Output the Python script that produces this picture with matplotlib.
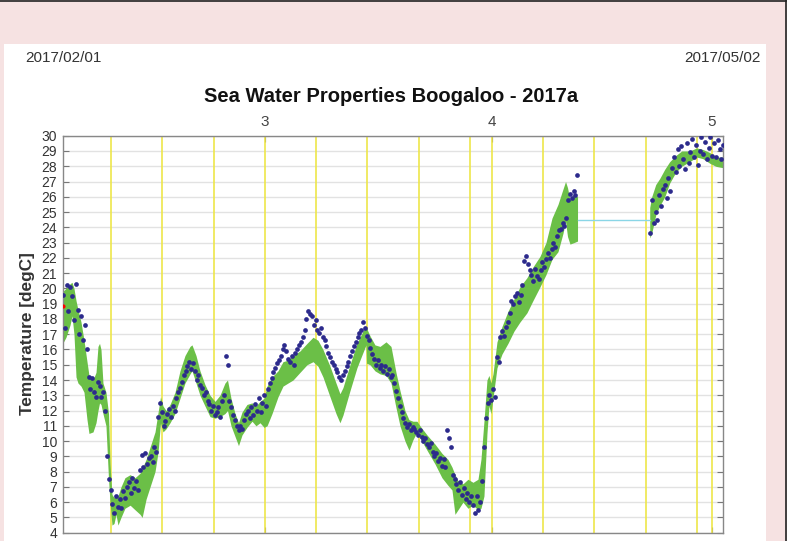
#!/usr/bin/env python3
"""Sea water temperature: model spread band vs. observed samples, Feb-May 2017."""
import matplotlib
matplotlib.use("Agg")
import matplotlib.pyplot as plt
import numpy as np
from matplotlib.lines import Line2D
from matplotlib.patches import Rectangle

plt.rcParams["font.family"] = ["Liberation Sans", "DejaVu Sans"]

# Time axis is days since 2017-02-01 00:00
X_START, X_END = 0.37, 90.6
MONTH_DAYS = [28, 59, 89]
MONTH_LABELS = ["3", "4", "5"]
WEEK_DAYS = [7, 14, 21, 28, 35, 42, 49, 56, 59, 66, 73, 80, 87, 89]

# Model spread (min/max), first stretch
band1_day = [0.37, 0.82, 1.37, 1.64, 1.91, 2.19, 2.46, 2.87, 3.28, 3.69, 3.96, 4.51,
             4.92, 5.19, 5.40, 5.60, 5.87, 6.28, 6.63, 6.83, 7.10, 7.38, 7.65, 7.92,
             8.33, 8.87, 9.58, 10.25, 10.94, 11.22, 11.76, 12.30, 12.98, 13.40, 13.73,
             14.07, 14.48, 15.03, 15.71, 16.39, 17.07, 17.76, 18.03, 18.58, 19.12,
             19.80, 20.49, 21.17, 21.85, 22.53, 22.88, 23.36, 23.91, 24.38, 24.86,
             25.54, 26.23, 26.77, 27.32, 27.87, 28.28, 28.96, 29.78, 30.46, 31.14,
             31.83, 32.78, 33.74, 34.56, 35.24, 35.92, 36.88, 37.70, 38.24, 38.65,
             39.61, 40.56, 41.38, 41.80, 41.87, 42.34, 43.02, 43.71, 44.53, 45.21,
             45.89, 46.44, 47.12, 47.67, 48.22, 48.76, 49.17, 50.13, 51.22, 52.17,
             52.99, 53.54, 53.95, 54.36, 55.04, 55.72, 56.41, 57.09, 57.50, 57.91,
             58.32, 58.59, 58.87, 59.14, 59.69, 60.37, 61.19, 62.01, 62.83, 63.78,
             64.60, 65.56, 66.38, 67.20, 68.02, 68.70, 69.05, 69.32, 69.66, 70.21, 70.69]
band1_lo = [16.4, 16.8, 17.6, 18.2, 17.0, 14.2, 13.8, 13.6, 13.2, 11.4, 10.5, 10.6,
            11.2, 12.0, 12.5, 12.4, 11.8, 11.0, 7.5, 6.0, 4.5, 4.6, 5.2, 4.5,
            5.0, 5.6, 5.8, 5.5, 5.2, 5.0, 6.2, 7.0, 8.0, 9.3, 11.2,
            10.6, 10.8, 11.2, 11.8, 12.8, 13.8, 14.4, 14.6, 13.8, 13.0,
            12.3, 11.6, 11.5, 11.6, 11.8, 12.0, 11.0, 10.3, 9.7, 10.4,
            10.9, 11.3, 11.0, 11.2, 10.9, 11.0, 11.8, 12.9, 13.6, 13.8,
            14.0, 14.5, 15.0, 15.2, 14.9, 14.2, 12.9, 11.8, 11.2, 11.7,
            13.3, 14.8, 15.8, 16.3, 15.1, 15.0, 14.6, 14.4, 14.3, 13.8,
            12.2, 11.0, 10.0, 9.4, 10.1, 10.6, 10.2, 9.4, 8.5, 7.6,
            7.1, 6.8, 5.2, 5.5, 6.0, 5.6, 5.8, 5.5, 5.6, 6.4,
            10.5, 12.3, 11.8, 12.8, 14.8, 15.7, 16.4, 17.2, 17.8, 18.4,
            19.2, 20.1, 20.9, 21.9, 22.4, 23.6, 24.4, 23.4, 22.9, 23.0, 23.1]
band1_hi = [19.8, 20.0, 20.3, 20.4, 20.0, 19.2, 18.6, 17.8, 16.6, 15.2, 14.3, 14.0,
            14.5, 16.2, 16.4, 16.0, 13.8, 13.2, 11.8, 8.5, 6.5, 6.3, 6.5, 6.4,
            7.0, 7.6, 7.8, 7.6, 7.9, 8.2, 8.8, 9.6, 10.6, 11.9, 12.9,
            12.3, 12.0, 12.4, 13.2, 14.6, 15.6, 16.2, 16.3, 15.6, 14.6,
            13.7, 13.0, 12.6, 13.0, 13.8, 14.0, 12.8, 11.8, 11.2, 11.9,
            12.4, 12.5, 12.3, 12.6, 12.8, 13.6, 14.2, 14.6, 15.2, 15.3,
            15.6, 15.9, 16.4, 16.8, 16.6, 16.0, 14.9, 13.8, 13.1, 13.5,
            15.0, 16.4, 17.2, 17.5, 17.4, 16.9, 16.3, 16.2, 16.5, 16.2,
            14.5, 13.3, 12.0, 11.4, 11.3, 11.3, 11.0, 10.4, 9.8, 9.2,
            8.8, 8.3, 7.8, 7.4, 7.2, 7.5, 7.3, 7.5, 8.8, 11.3,
            14.0, 14.3, 13.8, 14.4, 16.5, 17.5, 18.5, 19.3, 20.1, 20.7,
            21.4, 22.1, 23.0, 24.6, 25.5, 26.5, 27.0, 26.6, 25.8, 26.2, 26.0]

# Model spread, second stretch
band2_day = [80.55, 80.82, 81.37, 81.92, 82.60, 83.28, 84.10, 84.92, 86.01, 86.97,
             87.79, 88.74, 89.56, 90.6]
band2_lo = [23.3, 23.6, 24.8, 25.4, 26.0, 26.9, 27.6, 28.0, 28.3, 28.6,
            28.5, 28.2, 28.0, 27.9]
band2_hi = [25.3, 26.0, 26.8, 27.2, 27.8, 28.3, 28.7, 29.0, 29.0, 29.2,
            29.1, 28.9, 28.6, 28.6]

# Model mean carried across the data gap
gap_day = [70.69, 80.55]
gap_temp = [24.5, 24.5]

# Observations, sampled every 6 h
OBS_STEP = 0.25
obs1_start = 0.4
obs1_temp = [
    19.6, 17.4, 20.2, 18.5, 20.1, 19.5, 17.9, 20.3, 18.6, 17.0, 18.2, 16.6,
    17.6, 16.0, 14.2, 13.4, 14.1, 13.2, 12.9, 13.9, 13.6, 12.9, 13.2, 12.0,
    9.0, 7.5, 6.8, 5.9, 5.3, 6.4, 5.7, 6.2, 5.6, 6.7, 6.3, 7.0,
    7.3, 6.6, 7.6, 6.9, 7.4, 6.8, 8.1, 9.1, 8.3, 9.2, 8.5, 8.9,
    9.0, 8.6, 9.6, 9.3, 11.6, 12.5, 11.9, 11.0, 11.3, 11.8, 12.1, 11.6,
    12.3, 12.0, 12.8, 13.2, 13.5, 13.9, 14.3, 14.6, 14.9, 15.2, 14.7, 15.1,
    14.6, 14.0, 14.3, 13.7, 13.5, 13.0, 13.2, 12.6, 12.4, 12.0, 12.3, 11.7,
    11.9, 12.2, 11.6, 12.6, 13.0, 15.6, 15.0, 12.6, 12.2, 11.7, 11.4, 11.0,
    10.7, 11.0, 10.8, 11.4, 11.8, 12.0, 11.5, 12.2, 11.7, 12.4, 12.0, 12.8,
    11.9, 12.5, 13.0, 12.3, 13.4, 13.8, 14.1, 14.5, 14.8, 15.1, 15.3, 15.6,
    16.0, 16.3, 15.9, 15.4, 15.2, 15.6, 15.0, 15.8, 16.0, 16.3, 16.5, 16.8,
    17.3, 18.0, 18.5, 18.3, 18.2, 17.6, 17.9, 17.3, 17.1, 17.4, 16.8, 16.6,
    16.2, 15.8, 15.5, 15.2, 15.0, 14.7, 14.5, 14.2, 14.0, 14.3, 14.6, 14.9,
    15.2, 15.6, 15.9, 16.2, 16.5, 16.8, 17.1, 17.3, 17.8, 17.4, 16.9, 16.6,
    16.1, 15.7, 15.4, 15.0, 15.3, 14.8, 15.0, 14.6, 14.9, 14.4, 14.7, 14.2,
    14.3, 13.8, 13.3, 12.8, 12.3, 11.9, 11.5, 11.2, 10.9, 11.1, 10.7, 10.9,
    10.8, 10.6, 10.4, 10.7, 10.3, 10.0, 10.2, 9.8, 9.6, 9.9, 9.3, 9.0,
    9.2, 8.7, 8.9, 8.4, 8.8, 8.3, 10.7, 10.2, 9.6, 7.8, 7.5, 7.2,
    6.8, 7.3, 6.5, 6.9, 6.2, 6.6, 6.0, 6.4, 5.8, 5.3, 6.4, 5.5,
    6.0, 7.4, 9.6, 11.5, 12.5, 13.0, 12.7, 13.4, 12.9, 15.5, 15.2, 16.8,
    17.2, 16.9, 17.5, 17.8, 18.4, 19.2, 19.0, 19.5, 19.7, 19.1, 19.6, 20.2,
    21.8, 22.1, 21.6, 21.2, 20.9, 20.5, 21.3, 20.8, 20.6, 21.2, 21.7, 21.4,
    21.9, 22.3, 22.0, 22.6, 23.0, 22.7, 23.4, 23.8, 23.9, 24.3, 24.1, 24.6,
    25.8, 26.2, 25.9, 26.4, 26.1, 27.4,
]
obs2_start = 80.6
obs2_temp = [
    23.6, 25.8, 24.3, 25.0, 24.5, 26.1, 25.4, 26.5, 26.8, 25.9, 27.2, 26.4,
    27.9, 28.6, 27.6, 29.1, 28.0, 29.3, 28.5, 27.8, 29.5, 28.2, 28.9, 29.8,
    28.6, 29.4, 28.1, 29.0, 29.9, 28.8, 29.6, 28.5, 29.2, 29.9, 28.7, 29.5,
    28.6, 29.7, 29.1, 28.5, 29.4,
]

# First record flagged separately
flag_day = [0.4]
flag_temp = [18.85]

PINK = "#f6e2e2"
GREEN = "#6bbf47"
NAVY = "#2c2a8c"
YELLOW = "#eee64a"
CYAN = "#8ad6e6"

W, H = 787, 541
fig = plt.figure(figsize=(W / 100, H / 100), dpi=100, facecolor=PINK)
fig.patches.append(Rectangle((4 / W, 0), 762 / W, (H - 44) / H, transform=fig.transFigure,
                             facecolor="white", edgecolor="none", zorder=-10))
fig.lines.append(Line2D([0, 786 / W], [1 - 0.5 / H, 1 - 0.5 / H], transform=fig.transFigure,
                        color="#222222", lw=1.2))
fig.lines.append(Line2D([785.5 / W, 785.5 / W], [0, 1], transform=fig.transFigure,
                        color="#222222", lw=1.2))

ax = fig.add_axes([62.7 / W, 1 - 532.7 / H, (723.3 - 62.7) / W, (532.7 - 135.7) / H])
ax.set_zorder(1)
ax.set_facecolor("white")

for d in WEEK_DAYS:
    ax.axvline(d, color=YELLOW, lw=1.2, zorder=1)

ax.fill_between(band1_day, band1_lo, band1_hi, color=GREEN, lw=0, zorder=2)
ax.fill_between(band2_day, band2_lo, band2_hi, color=GREEN, lw=0, zorder=2)
ax.plot(gap_day, gap_temp, color=CYAN, lw=1.0, zorder=2.5)

obs1_day = obs1_start + OBS_STEP * np.arange(len(obs1_temp))
obs2_day = obs2_start + OBS_STEP * np.arange(len(obs2_temp))
for days, temps in ((obs1_day, obs1_temp), (obs2_day, obs2_temp)):
    ax.plot(days, temps, "o", color=NAVY, ms=3.4, mew=0, zorder=3)
ax.plot(flag_day, flag_temp, "o", color="red", ms=3.0, mew=0, zorder=4)

ax.set_xlim(X_START, X_END)
ax.set_ylim(4, 30)
ax.set_yticks(range(4, 31))
ax.set_xticks(MONTH_DAYS)
ax.set_xticklabels(MONTH_LABELS)
ax.yaxis.grid(True, color="#e2e2e2", lw=1.0, zorder=0)
ax.set_axisbelow(True)

ax.tick_params(axis="y", direction="in", length=4, width=0.8, color="#777777",
               right=True, labelright=False, labelsize=10, labelcolor="#333333", pad=4)
ax.tick_params(axis="x", direction="in", length=4, width=0.8, color="#555555",
               top=True, bottom=True, labeltop=True, labelbottom=False,
               labelsize=11, labelcolor="#444444", pad=5)
for sp in ax.spines.values():
    sp.set_color("#888888")
    sp.set_linewidth(1.0)

fig.text(391 / W, 1 - 96 / H, "Sea Water Properties Boogaloo - 2017a",
         ha="center", va="center", fontsize=14.5, fontweight="bold", color="#111111")
fig.text(25 / W, 1 - 58.5 / H, "2017/02/01", ha="left", va="center",
         fontsize=11, color="#333333")
fig.text(761 / W, 1 - 58.5 / H, "2017/05/02", ha="right", va="center",
         fontsize=11, color="#333333")
fig.text(28 / W, 1 - 334 / H, "Temperature [degC]", rotation=90, ha="center",
         va="center", fontsize=12.4, fontweight="bold", color="#333333")

fig.savefig("out.png", dpi=100, facecolor=PINK)
